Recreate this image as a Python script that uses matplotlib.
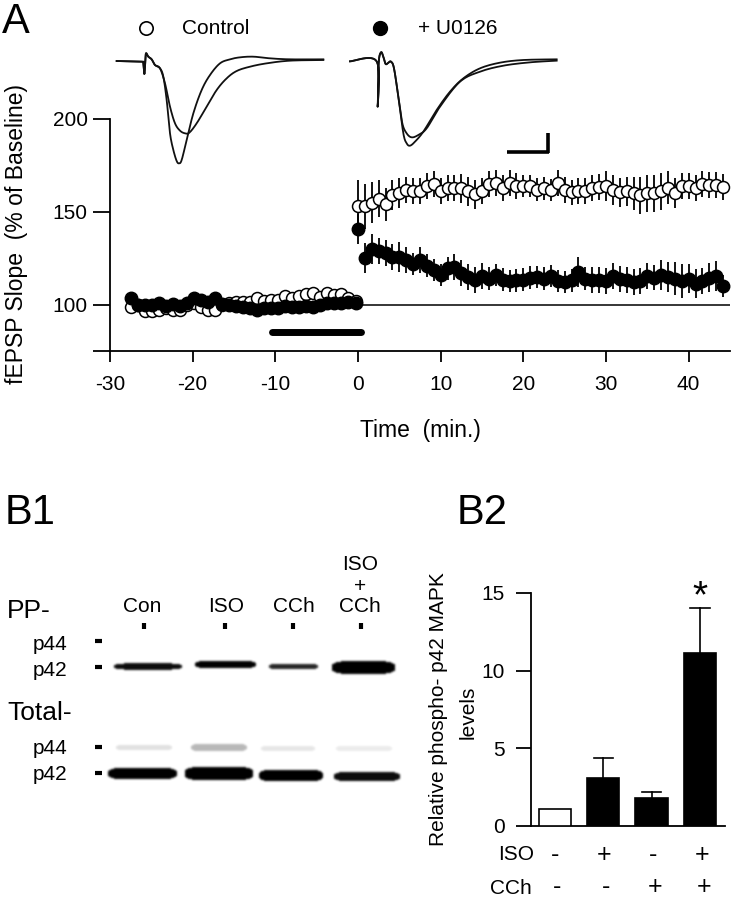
import matplotlib
matplotlib.use("Agg")
import matplotlib.pyplot as plt
import numpy as np

plt.rcParams['font.family'] = ['Liberation Sans', 'DejaVu Sans']
plt.rcParams['axes.unicode_minus'] = False

W = 731
H = 900

# panel A, time course
timePre = [-27.5, -26.65, -25.8, -24.95, -24.1, -23.25, -22.4, -21.55, -20.7, -19.85, -19.0,
           -18.15, -17.3, -16.45, -15.6, -14.75, -13.9, -13.05, -12.2, -11.35, -10.5, -9.65,
           -8.8, -7.95, -7.1, -6.25, -5.4, -4.55, -3.7, -2.85, -2.0, -1.15, -0.3]
controlPre = [98.8, 99.7, 96.6, 96.6, 97.0, 98.4, 97.0, 97.0, 99.7, 100.6, 98.8, 97.0, 97.3,
              99.7, 100.6, 101.5, 101.5, 101.5, 103.3, 102.0, 102.7, 102.7, 104.5, 103.8,
              104.5, 105.6, 106.3, 104.1, 106.3, 105.0, 105.6, 103.8, 102.0]
treatedPre = [103.8, 100.0, 99.7, 99.7, 100.6, 99.1, 100.2, 99.1, 100.9, 103.8, 102.7, 101.5,
              103.3, 100.2, 99.7, 99.1, 98.8, 97.9, 97.0, 98.4, 98.4, 98.4, 99.1, 98.8, 98.8,
              99.1, 98.8, 99.7, 100.6, 100.6, 100.6, 101.5, 100.6]

timePost = [0.0, 0.83, 1.67, 2.5, 3.33, 4.17, 5.0, 5.83, 6.67, 7.5, 8.33, 9.17, 10.0, 10.83,
            11.67, 12.5, 13.33, 14.17, 15.0, 15.83, 16.67, 17.5, 18.33, 19.17, 20.0, 20.83,
            21.67, 22.5, 23.33, 24.17, 25.0, 25.83, 26.67, 27.5, 28.33, 29.17, 30.0, 30.83,
            31.67, 32.5, 33.33, 34.17, 35.0, 35.83, 36.67, 37.5, 38.33, 39.17, 40.0, 40.83,
            41.67, 42.5, 43.33, 44.17]
controlPost = [153, 153, 155, 157, 154, 159, 160, 162, 161, 161, 164, 165, 161, 163, 163, 162.6,
               161, 159.4, 161, 165, 165.3, 162.6, 165.6, 164, 164, 164, 162, 162.6, 161.7,
               165.3, 162, 160.4, 161, 161, 163, 163.5, 164, 161.7, 160.4, 161, 160, 159, 160,
               160, 161, 163, 160, 164, 164, 163, 165, 164.5, 164.5, 163.5]
controlErr = [14, 12, 11, 10, 9, 8, 8, 7, 7, 7, 7, 7, 7, 7, 7, 8, 8, 8, 7, 7, 7, 7, 7, 7, 6, 6,
              6, 6, 6, 7, 7, 7, 7, 7, 7, 7, 8, 8, 8, 8, 9, 10, 10, 10, 10, 9, 8, 7, 7, 7, 7, 7,
              7, 7]
treatedPost = [140.7, 125, 130, 129, 127.7, 125.5, 125.7, 124, 122, 124, 121, 118.5, 115.8, 119.5,
               120.3, 116.8, 115, 113, 115.3, 114, 115.8, 113.5, 112.8, 113, 113.5, 114.6, 115,
               114, 115.3, 112.8, 112, 113, 117.7, 114, 113, 113, 112.8, 115.3, 114, 113, 112,
               112.8, 115.3, 114.6, 115.8, 115, 114, 112.8, 114, 111.3, 112.8, 114.6, 115.3, 110]
treatedErr = [8, 8, 8, 7, 7, 7, 8, 7, 6, 7, 6, 6, 6, 6, 7, 7, 7, 7, 7, 6, 6, 6, 6, 6, 6, 6, 6,
              6, 6, 6, 6, 6, 8, 6, 7, 7, 7, 7, 7, 7, 7, 7, 7, 7, 8, 8, 9, 9, 8, 8, 7, 8, 8, 6]

# sweeps above panel A, in page pixels of a 3x crop
traceControlX = [80, 155, 160, 163, 166, 168, 175, 185, 195, 210, 220, 230, 240, 250, 260, 267, 275,
                 290, 310, 335, 360, 390, 420, 450, 490, 540, 600, 700]
traceControlY = [183, 185, 190, 222, 185, 160, 170, 178, 195, 205, 230, 300, 400, 450, 483, 490, 480,
                 420, 340, 270, 225, 190, 178, 172, 170, 175, 178, 178]
traceControl2X = [80, 155, 160, 163, 166, 168, 175, 185, 195, 210, 225, 240, 255, 270, 285, 298, 320,
                  350, 380, 410, 440, 480, 530, 600, 700]
traceControl2Y = [183, 185, 190, 222, 185, 160, 170, 178, 195, 205, 250, 320, 370, 392, 400, 398, 370,
                  320, 270, 235, 213, 200, 190, 182, 180]
traceTreatedX = [780, 860, 863, 866, 873, 880, 887, 895, 903, 912, 925, 940, 950, 960, 975, 1000, 1040,
                 1080, 1120, 1170, 1230, 1300, 1400]
traceTreatedY = [184, 184, 320, 190, 157, 170, 192, 188, 185, 205, 290, 400, 430, 437, 425, 395, 330,
                 275, 235, 205, 188, 180, 178]
traceTreated2X = [780, 860, 863, 866, 873, 880, 887, 895, 903, 912, 925, 937, 950, 965, 985, 1010, 1050,
                  1110, 1170, 1240, 1320, 1400]
traceTreated2Y = [184, 184, 320, 190, 157, 170, 192, 188, 185, 205, 290, 370, 400, 412, 405, 385, 320,
                  245, 215, 197, 187, 182]

# blot bands: left, right, centre y, half height, darkness
bandsLeft = [113, 194, 268, 331, 115, 190, 260, 335, 107, 184, 258, 333]
bandsRight = [182, 256, 318, 395, 172, 247, 315, 392, 177, 253, 323, 400]
bandsY = [666, 664, 666, 667, 747, 747, 748, 748, 773, 773, 775, 776]
bandsHalf = [3.2, 3.8, 2.8, 6.5, 3, 4, 3, 3, 6, 7, 6, 5]
bandsDark = [0.95, 1.0, 0.85, 1.0, 0.12, 0.28, 0.1, 0.08, 1.0, 1.0, 1.0, 0.95]

# panel B2
barValues = [1.05, 3.1, 1.8, 11.15]
barTops = [1.05, 4.35, 2.2, 14.05]
barColors = ['white', 'black', 'black', 'black']
isoSigns = ['-', '+', '-', '+']
cchSigns = ['-', '-', '+', '+']


def axes_px(left, top, right, bottom):
    return fig.add_axes([left / W, 1 - bottom / H, (right - left) / W, (bottom - top) / H])


def smooth_curve(xs, ys, n=12):
    # catmull-rom through the read points so sweeps are not polygons
    p = np.column_stack([xs, ys]).astype(float)
    p = np.vstack([p[0], p, p[-1]])
    out = []
    for i in range(1, len(p) - 2):
        u = np.linspace(0, 1, n, endpoint=False)[:, None]
        out.append(0.5 * (2 * p[i] + (p[i + 1] - p[i - 1]) * u
                          + (2 * p[i - 1] - 5 * p[i] + 4 * p[i + 1] - p[i + 2]) * u ** 2
                          + (3 * p[i] - p[i - 1] - 3 * p[i + 1] + p[i + 2]) * u ** 3))
    out.append(p[-1][None, :])
    out = np.vstack(out)
    return out[:, 0], out[:, 1]


fig = plt.figure(figsize=(W / 100, H / 100), dpi=100)

# overlay for everything placed on the page
page = fig.add_axes([0, 0, 1, 1])
page.set_xlim(0, W)
page.set_ylim(H, 0)
page.axis('off')

# blot image
xx, yy = np.meshgrid(np.arange(95, 412), np.arange(650, 795))
blot = np.zeros(xx.shape)
for l, r, cy, hh, d in zip(bandsLeft, bandsRight, bandsY, bandsHalf, bandsDark):
    cx = (l + r) / 2
    hw = (r - l) / 2
    dist = np.abs((xx - cx) / hw) ** 5 + np.abs((yy - cy) / hh) ** 2.5
    blot = np.maximum(blot, d * (dist < 1))
# scanned film look, soft edges
kernel = np.array([1, 3, 5, 3, 1]) / 13
blot = np.apply_along_axis(lambda a: np.convolve(a, kernel, mode='same'), 0, blot)
blot = np.apply_along_axis(lambda a: np.convolve(a, kernel, mode='same'), 1, blot)
page.imshow(1 - blot, cmap='gray', vmin=0, vmax=1, extent=(95, 412, 795, 650), aspect='auto',
            interpolation='bilinear', zorder=1)
page.set_xlim(0, W)
page.set_ylim(H, 0)

# sweeps
for tx, ty in [(traceControlX, traceControlY), (traceControl2X, traceControl2Y),
               (traceTreatedX, traceTreatedY), (traceTreated2X, traceTreated2Y)]:
    sx, sy = smooth_curve(90 + np.array(tx) / 3, np.array(ty) / 3)
    page.plot(sx, sy, color='#111111', lw=1.3, zorder=3)

# scale bar
page.plot([507, 549], [152, 152], color='black', lw=2.6, solid_capstyle='butt', zorder=3)
page.plot([548, 548], [133, 153], color='black', lw=2.6, solid_capstyle='butt', zorder=3)

# legend
page.plot([146], [28], 'o', ms=9.6, mfc='white', mec='black', mew=1.2)
page.plot([380], [28], 'o', ms=10, mfc='black', mec='black')
page.text(182, 28, 'Control', fontsize=15, va='center', ha='left')
page.text(418, 28, '+ U0126', fontsize=15, va='center', ha='left')

# panel letters
page.text(2, 22, 'A', fontsize=30, va='center', ha='left')
page.text(5, 513, 'B1', fontsize=30, va='center', ha='left')
page.text(457, 513, 'B2', fontsize=30, va='center', ha='left')

# blot labels
page.text(7, 611, 'PP-', fontsize=19, va='center', ha='left')
page.text(7, 713, 'Total-', fontsize=19, va='center', ha='left')
for txt, y in [('p44', 645), ('p42', 671), ('p44', 749), ('p42', 775)]:
    page.text(33, y, txt, fontsize=15, va='center', ha='left')
for txt, x in [('Con', 142), ('ISO', 226), ('CCh', 294), ('CCh', 360)]:
    page.text(x, 606, txt, fontsize=15, va='center', ha='center')
page.text(360, 565, 'ISO', fontsize=15, va='center', ha='center')
page.text(360, 586, '+', fontsize=15, va='center', ha='center')

# blot tick marks
for x in [144, 225, 293, 361]:
    page.plot([x, x], [623, 629], color='black', lw=3, solid_capstyle='butt')
for y in [641, 667, 747, 773]:
    page.plot([95, 102], [y, y], color='black', lw=3, solid_capstyle='butt')

# panel A axes
axA = axes_px(110, 119, 730, 351)
axA.set_xlim(-30, 45)
axA.set_ylim(75, 200)
axA.patch.set_alpha(0)
for s in ['top', 'right']:
    axA.spines[s].set_visible(False)
for s in ['left', 'bottom']:
    axA.spines[s].set_linewidth(1.3)
axA.set_xticks([-30, -20, -10, 0, 10, 20, 30, 40])
axA.set_yticks([75, 100, 150, 200])
axA.set_yticklabels(['', '100', '150', '200'])
axA.tick_params(axis='x', length=8, width=1.3, labelsize=15, pad=9)
axA.tick_params(axis='y', length=12, width=1.3, labelsize=15, pad=4)
axA.plot([0, 45], [100, 100], color='black', lw=1.1, zorder=1)
axA.plot([-10.4, 0.4], [85, 85], color='black', lw=5, solid_capstyle='round', zorder=2)
axA.errorbar(timePost, controlPost, yerr=controlErr, fmt='none', ecolor='black', elinewidth=1.3, zorder=3)
axA.errorbar(timePost, treatedPost, yerr=treatedErr, fmt='none', ecolor='black', elinewidth=1.3, zorder=3)
axA.plot(timePre + timePost, controlPre + controlPost, 'o', ms=8.6, mfc='white', mec='black', mew=1.1,
         ls='none', zorder=4, clip_on=False)
axA.plot(timePre + timePost, treatedPre + treatedPost, 'o', ms=9, mfc='black', mec='black',
         ls='none', zorder=5, clip_on=False)
axA.set_xlabel('Time  (min.)', fontsize=16.5, labelpad=18)
page.text(17, 234, 'fEPSP Slope  (% of Baseline)', fontsize=16.5, rotation=90, va='center', ha='center')

# panel B2 axes
axB = axes_px(531, 593, 725, 825.7)
axB.patch.set_alpha(0)
xPos = list(range(len(barValues)))
axB.set_xlim(-0.497, 3.52)
axB.set_ylim(0, 15)
for s in ['top', 'right']:
    axB.spines[s].set_visible(False)
for s in ['left', 'bottom']:
    axB.spines[s].set_linewidth(1.3)
axB.bar(xPos, barValues, width=0.67, color=barColors, edgecolor='black', linewidth=1.2, zorder=3)
for x, v, t in zip(xPos, barValues, barTops):
    if t > v:
        axB.plot([x, x], [v, t], color='black', lw=1.2, zorder=2)
        axB.plot([x - 0.2, x + 0.2], [t, t], color='black', lw=1.2, zorder=2)
axB.set_xticks([])
axB.set_yticks([0, 5, 10, 15])
axB.tick_params(axis='y', length=11, width=1.3, labelsize=15, pad=8)
page.text(700, 597, '*', fontsize=28, va='center', ha='center')
page.text(438, 709, 'Relative phospho- p42 MAPK', fontsize=15, rotation=90, va='center', ha='center')
page.text(468, 712, 'levels', fontsize=15, rotation=90, va='center', ha='center')
page.text(534, 855, 'ISO', fontsize=15, va='center', ha='right')
page.text(532, 888, 'CCh', fontsize=15, va='center', ha='right')
for x, a, b in zip([555, 604, 653, 702], isoSigns, cchSigns):
    page.text(x, 862, a, fontsize=18, va='baseline', ha='center')
    page.text(x + 2, 894.5, b, fontsize=18, va='baseline', ha='center')

fig.savefig('out.png', dpi=100)
